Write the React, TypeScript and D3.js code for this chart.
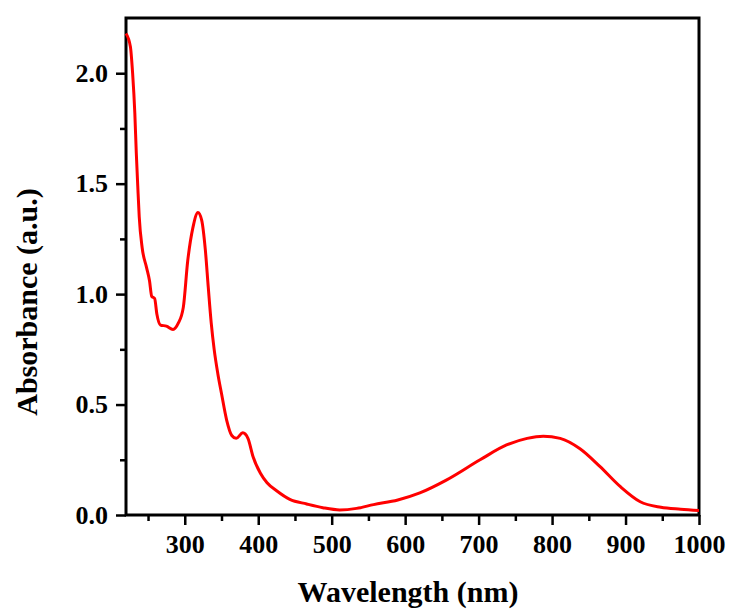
import * as d3 from "d3";
import { useEffect, useRef } from "react";

// UV-vis absorbance spectrum
const wavelengths = [
  220, 226, 229, 232, 234, 236, 238, 242, 248, 252, 255, 259, 262, 267, 275,
  284, 291, 298, 304, 311, 318, 323, 328, 332, 336, 340, 345, 350, 357, 364,
  370, 379, 386, 393, 403, 412, 425, 443, 466, 488, 511, 534, 557, 590, 620,
  656, 702, 738, 766, 788, 811, 838, 865, 893, 920, 948, 975, 1000,
];
const absorbance = [
  2.18, 2.12, 2.0, 1.82, 1.64, 1.49, 1.35, 1.21, 1.12, 1.06, 0.99, 0.98, 0.91,
  0.86, 0.855, 0.84, 0.867, 0.94, 1.15, 1.3, 1.37, 1.335, 1.2, 1.03, 0.87,
  0.75, 0.64, 0.55, 0.43, 0.36, 0.347, 0.372, 0.347, 0.264, 0.189, 0.146, 0.11,
  0.071, 0.05, 0.033, 0.023, 0.03, 0.047, 0.068, 0.1, 0.158, 0.25, 0.317,
  0.347, 0.357, 0.347, 0.3, 0.22, 0.128, 0.06, 0.035, 0.026, 0.02,
];
const xMajor = [300, 400, 500, 600, 700, 800, 900, 1000];
const xMinor = [250, 350, 450, 550, 650, 750, 850, 950];
const yMajor = [0, 0.5, 1.0, 1.5, 2.0];
const yMinor = [0.25, 0.75, 1.25, 1.75];

const W = 732;
const H = 611;
const m = { top: 18, right: 33, bottom: 96, left: 126 };
const font = "'Liberation Serif', 'Times New Roman', serif";

export default function App() {
  const ref = useRef<SVGSVGElement>(null);

  useEffect(() => {
    const svg = d3.select(ref.current);
    svg.selectAll("*").remove();

    const x = d3.scaleLinear().domain([220, 1000]).range([m.left, W - m.right]);
    const y = d3.scaleLinear().domain([0, 2.25]).range([H - m.bottom, m.top]);

    const style = (g: any, size: number) => {
      g.select(".domain").remove();
      g.selectAll("line").attr("stroke", "#000").attr("stroke-width", 2.5);
      g.selectAll("text")
        .attr("font-family", font)
        .attr("font-weight", "bold")
        .attr("font-size", size)
        .attr("fill", "#000");
    };

    // x axis
    svg
      .append("g")
      .attr("transform", `translate(0,${H - m.bottom})`)
      .call(d3.axisBottom(x).tickValues(xMinor).tickSize(6).tickFormat(() => ""))
      .call((g: any) => style(g, 26));
    svg
      .append("g")
      .attr("transform", `translate(0,${H - m.bottom})`)
      .call(d3.axisBottom(x).tickValues(xMajor).tickSize(10).tickPadding(10).tickFormat(d3.format("d")))
      .call((g: any) => style(g, 26));

    // y axis
    svg
      .append("g")
      .attr("transform", `translate(${m.left},0)`)
      .call(d3.axisLeft(y).tickValues(yMinor).tickSize(6).tickFormat(() => ""))
      .call((g: any) => style(g, 26));
    svg
      .append("g")
      .attr("transform", `translate(${m.left},0)`)
      .call(d3.axisLeft(y).tickValues(yMajor).tickSize(10).tickPadding(8).tickFormat(d3.format(".1f")))
      .call((g: any) => style(g, 26));

    // frame
    svg
      .append("rect")
      .attr("x", m.left)
      .attr("y", m.top)
      .attr("width", W - m.left - m.right)
      .attr("height", H - m.top - m.bottom)
      .attr("fill", "none")
      .attr("stroke", "#000")
      .attr("stroke-width", 3);

    const data = wavelengths.map((w, i) => [w, absorbance[i]] as [number, number]);
    const line = d3
      .line<[number, number]>()
      .x((d) => x(d[0]))
      .y((d) => y(d[1]))
      .curve(d3.curveMonotoneX);

    svg
      .append("path")
      .datum(data)
      .attr("d", line)
      .attr("fill", "none")
      .attr("stroke", "#ff0000")
      .attr("stroke-width", 3);

    // titles
    svg
      .append("text")
      .attr("x", 408)
      .attr("y", 602)
      .attr("text-anchor", "middle")
      .attr("font-family", font)
      .attr("font-weight", "bold")
      .attr("font-size", 30)
      .text("Wavelength (nm)");
    svg
      .append("text")
      .attr("transform", "rotate(-90)")
      .attr("x", -302)
      .attr("y", 37)
      .attr("text-anchor", "middle")
      .attr("font-family", font)
      .attr("font-weight", "bold")
      .attr("font-size", 30)
      .text("Absorbance (a.u.)");
  }, []);

  return (
    <svg
      ref={ref}
      width={W}
      height={H}
      style={{ position: "absolute", left: 0, top: 0, background: "#fff" }}
    />
  );
}
